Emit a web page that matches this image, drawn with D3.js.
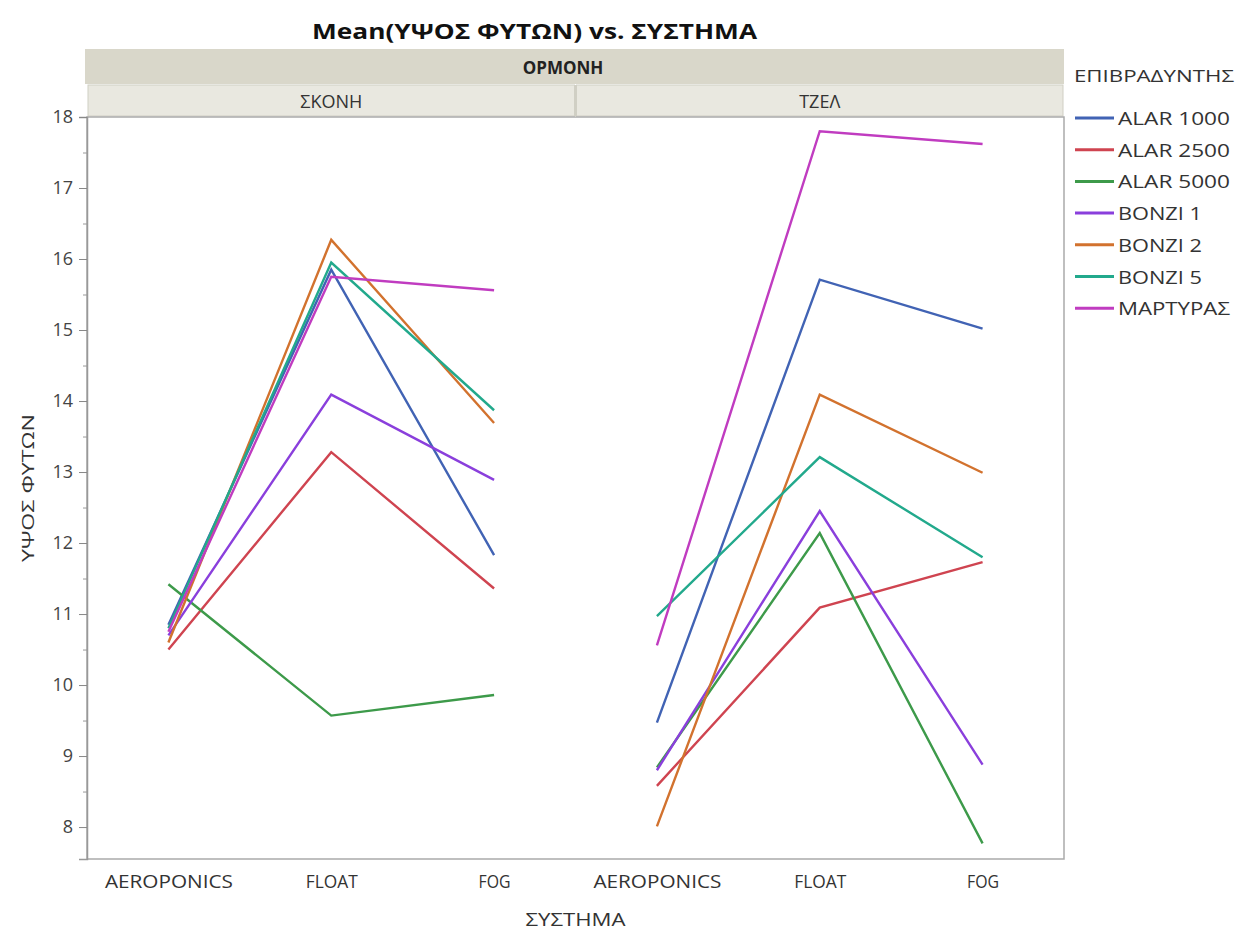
<!DOCTYPE html>
<html>
<head>
<meta charset="utf-8">
<script src="https://cdn.jsdelivr.net/npm/d3@7"></script>
<style>
  body { margin: 0; background: #fff; }
  text { font-family: "Open Sans", "Noto Sans", sans-serif; }
</style>
</head>
<body>
<svg id="chart" width="1236" height="932"></svg>
<script>
// Mean plant height by growing system, split by hormone form
const systems = ["AEROPONICS", "FLOAT", "FOG"];
const panels = ["ΣΚΟΝΗ", "ΤΖΕΛ"];
const groups = ["ALAR 1000", "ALAR 2500", "ALAR 5000", "BONZI 1", "BONZI 2", "BONZI 5", "ΜΑΡΤΥΡΑΣ"];
const colors = ["#4163b4", "#cf4450", "#3d9a4a", "#8a3fdc", "#d2722e", "#22a98c", "#c03cc0"];
const yTicks = [8, 9, 10, 11, 12, 13, 14, 15, 16, 17, 18];

// values per group: [AEROPONICS, FLOAT, FOG]
const skoni = {
  "ALAR 1000": [10.85, 15.85, 11.83],
  "ALAR 2500": [10.5, 13.28, 11.36],
  "ALAR 5000": [11.42, 9.57, 9.86],
  "BONZI 1":   [10.7, 14.09, 12.89],
  "BONZI 2":   [10.6, 16.27, 13.69],
  "BONZI 5":   [10.8, 15.95, 13.87],
  "ΜΑΡΤΥΡΑΣ":  [10.75, 15.75, 15.56]
};
const tzel = {
  "ALAR 1000": [9.47, 15.71, 15.02],
  "ALAR 2500": [8.58, 11.09, 11.73],
  "ALAR 5000": [8.84, 12.14, 7.77],
  "BONZI 1":   [8.8, 12.45, 8.88],
  "BONZI 2":   [8.01, 14.09, 12.99],
  "BONZI 5":   [10.97, 13.21, 11.8],
  "ΜΑΡΤΥΡΑΣ":  [10.56, 17.8, 17.62]
};
const panelData = [skoni, tzel];

const svg = d3.select("#chart");
const plotLeft = 87, plotRight = 1064, plotTop = 117, plotBottom = 859;
const panelW = (plotRight - plotLeft) / 2;

const y = d3.scaleLinear().domain([7.55, 18]).range([plotBottom, plotTop]);
const panelX = d3.scaleBand().domain(panels).range([plotLeft, plotRight]);
const color = d3.scaleOrdinal().domain(groups).range(colors);

// title
svg.append("text")
  .attr("x", 312).attr("y", 39)
  .attr("font-size", 21).attr("font-weight", "bold")
  .attr("fill", "#111")
  .attr("textLength", 445).attr("lengthAdjust", "spacingAndGlyphs")
  .text("Mean(ΥΨΟΣ ΦΥΤΩΝ) vs. ΣΥΣΤΗΜΑ");

// outer header band
svg.append("rect")
  .attr("x", plotLeft - 2).attr("y", 49)
  .attr("width", plotRight - plotLeft + 2).attr("height", 35)
  .attr("fill", "#d9d7ca");
svg.append("text")
  .attr("x", 563).attr("y", 74)
  .attr("text-anchor", "middle")
  .attr("font-size", 17).attr("font-weight", "bold").attr("fill", "#222")
  .text("ΟΡΜΟΝΗ");

// panel header band
panels.forEach(p => {
  const x0 = panelX(p);
  svg.append("rect")
    .attr("x", x0 + 1).attr("y", 85)
    .attr("width", panelW - 2).attr("height", 31)
    .attr("fill", "#e9e8e0")
    .attr("stroke", "#d0cfc4").attr("stroke-width", 1);
  svg.append("text")
    .attr("x", x0 + panelW / 2).attr("y", 108)
    .attr("text-anchor", "middle")
    .attr("font-size", 18).attr("fill", "#333")
    .text(p);
});

// plot frame
svg.append("rect")
  .attr("x", plotLeft).attr("y", plotTop)
  .attr("width", plotRight - plotLeft).attr("height", plotBottom - plotTop)
  .attr("fill", "#fff").attr("stroke", "#aaa").attr("stroke-width", 1.5);
svg.append("line")
  .attr("x1", plotLeft + panelW).attr("x2", plotLeft + panelW)
  .attr("y1", 85).attr("y2", plotTop)
  .attr("stroke", "#d0cfc4");

// y axis
const yAxis = d3.axisLeft(y).tickValues(yTicks).tickSize(8).tickPadding(6).tickFormat(d3.format("d"));
const gy = svg.append("g").attr("transform", `translate(${plotLeft},0)`).call(yAxis);
gy.select(".domain").attr("stroke", "#999").attr("stroke-width", 1.5);
gy.selectAll(".tick line").attr("stroke", "#888");
gy.selectAll(".tick text").attr("font-size", 18).attr("fill", "#444");
const minor = d3.range(7.5, 18, 1).filter(v => v >= 7.55);
svg.append("g").attr("transform", `translate(${plotLeft},0)`)
  .call(d3.axisLeft(y).tickValues(minor).tickSize(4).tickFormat(""))
  .call(g => g.select(".domain").remove())
  .selectAll("line").attr("stroke", "#999");

svg.append("text")
  .attr("transform", `translate(34,${(plotTop + plotBottom) / 2}) rotate(-90)`)
  .attr("text-anchor", "middle")
  .attr("font-size", 17).attr("fill", "#333")
  .attr("textLength", 148).attr("lengthAdjust", "spacingAndGlyphs")
  .text("ΥΨΟΣ ΦΥΤΩΝ");

// panels: lines and x labels
panels.forEach((p, i) => {
  const x0 = panelX(p);
  const x = d3.scalePoint().domain(systems).range([x0, x0 + panelW]).padding(0.5);
  const line = d3.line().x((d, k) => x(systems[k])).y(d => y(d));
  const g = svg.append("g");
  groups.forEach(name => {
    g.append("path")
      .datum(panelData[i][name])
      .attr("d", line)
      .attr("fill", "none")
      .attr("stroke", color(name))
      .attr("stroke-width", 2.4)
      .attr("stroke-linejoin", "miter");
  });
  const gx = svg.append("g").attr("transform", `translate(0,${plotBottom})`)
    .call(d3.axisBottom(x).tickSize(0).tickPadding(16));
  gx.select(".domain").remove();
  gx.selectAll(".tick text").attr("font-size", 18).attr("fill", "#333")
    .attr("textLength", d => d === "AEROPONICS" ? 128 : d === "FLOAT" ? 52 : 32)
    .attr("lengthAdjust", "spacingAndGlyphs");
});

svg.append("text")
  .attr("x", (plotLeft + plotRight) / 2).attr("y", 926)
  .attr("text-anchor", "middle")
  .attr("font-size", 18).attr("fill", "#333")
  .attr("textLength", 100).attr("lengthAdjust", "spacingAndGlyphs")
  .text("ΣΥΣΤΗΜΑ");

// legend
const lg = svg.append("g").attr("transform", "translate(1072,0)");
lg.append("text").attr("x", 2).attr("y", 82)
  .attr("font-size", 17).attr("fill", "#333")
  .attr("textLength", 160).attr("lengthAdjust", "spacingAndGlyphs")
  .text("ΕΠΙΒΡΑΔΥΝΤΗΣ");
const legendLen = {"ALAR 1000": 112, "ALAR 2500": 112, "ALAR 5000": 112, "BONZI 1": 84, "BONZI 2": 84, "BONZI 5": 84, "ΜΑΡΤΥΡΑΣ": 112};
groups.forEach((name, k) => {
  const yy = 118 + k * 31.7;
  lg.append("line")
    .attr("x1", 3).attr("x2", 42).attr("y1", yy).attr("y2", yy)
    .attr("stroke", color(name)).attr("stroke-width", 3);
  lg.append("text").attr("x", 46).attr("y", yy + 7)
    .attr("font-size", 18).attr("fill", "#333")
    .attr("textLength", legendLen[name]).attr("lengthAdjust", "spacingAndGlyphs")
    .text(name);
});
</script>
</body>
</html>
